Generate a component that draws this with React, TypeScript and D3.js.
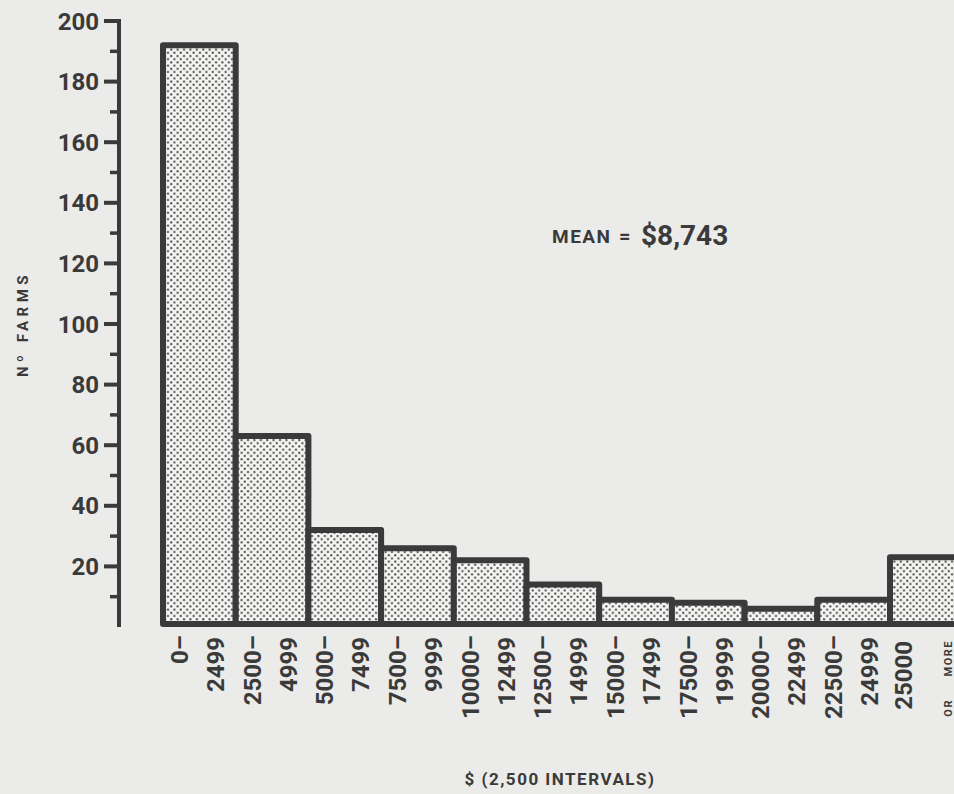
import React from "react";
import * as d3 from "d3";

const categories = ["0-2499", "2500-4999", "5000-7499", "7500-9999", "10000-12499", "12500-14999", "15000-17499", "17500-19999", "20000-22499", "22500-24999", "25000+"];
const labelLine1 = ["0–", "2500–", "5000–", "7500–", "10000–", "12500–", "15000–", "17500–", "20000–", "22500–", "25000"];
const labelLine2 = ["2499", "4999", "7499", "9999", "12499", "14999", "17499", "19999", "22499", "24999", ""];
const farms = [192, 63, 32, 26, 22, 14, 9, 8, 6, 9, 23];
const majorTicks = [20, 40, 60, 80, 100, 120, 140, 160, 180, 200];
const minorTicks = [10, 30, 50, 70, 90, 110, 130, 150, 170, 190];

const W = 954;
const H = 794;
const INK = "#3a3a3a";
const BG = "#ebebe9";
const FONT = "Roboto, 'DejaVu Sans', sans-serif";

export default function App() {
  const y = d3.scaleLinear().domain([0, 200]).range([627, 21]);
  const x = d3.scaleBand<string>().domain(categories).range([163, 163 + 11 * 72.7]).padding(0);
  const bw = x.bandwidth();
  const axisX = 119;

  return (
    <svg width={W} height={H} style={{ position: "absolute", left: 0, top: 0 }} fontFamily={FONT}>
      <defs>
        <pattern id="dots" width={6.4} height={6.4} patternUnits="userSpaceOnUse">
          <rect width={6.4} height={6.4} fill="#f4f4f2" />
          <circle cx={1.6} cy={1.6} r={1.1} fill="#4a4a4a" />
          <circle cx={4.8} cy={4.8} r={1.1} fill="#4a4a4a" />
        </pattern>
      </defs>
      <rect width={W} height={H} fill={BG} />

      {/* bars */}
      {categories.map((c, i) => {
        const x0 = x(c)!;
        const top = y(farms[i]);
        const bottom = y(0) - 3;
        return (
          <rect key={c} x={x0} y={top} width={bw} height={bottom - top}
            fill="url(#dots)" stroke={INK} strokeWidth={6} strokeLinejoin="round" />
        );
      })}

      {/* y axis */}
      <line x1={axisX} x2={axisX} y1={y(200) - 2} y2={y(0)} stroke={INK} strokeWidth={4} />
      {majorTicks.map((t) => (
        <g key={"M" + t}>
          <line x1={104} x2={axisX + 2} y1={y(t)} y2={y(t)} stroke={INK} strokeWidth={4} />
          <text x={99} y={y(t) + 8.5} textAnchor="end" fontSize={24} fontWeight={700} fill={INK}>{t}</text>
        </g>
      ))}
      {minorTicks.map((t) => (
        <line key={"m" + t} x1={110} x2={axisX} y1={y(t)} y2={y(t)} stroke={INK} strokeWidth={3.5} />
      ))}

      {/* y title */}
      <text transform="translate(28,324) rotate(-90)" textAnchor="middle" fontSize={15} fontWeight={700}
        letterSpacing={4.5} fill={INK}>Nº FARMS</text>

      {/* x labels */}
      {categories.map((c, i) => {
        const cx = x(c)! + bw / 2;
        const isLast = i === categories.length - 1;
        return (
          <g key={"l" + c}>
            <text transform={`translate(${cx - (isLast ? 23 : 20) + 8.5},${isLast ? 641 : 635}) rotate(-90)`}
              textAnchor="end" fontSize={24} fontWeight={700} fill={INK}>{labelLine1[i]}</text>
            {labelLine2[i] && (
              <text transform={`translate(${cx + 16 + 8.5},637) rotate(-90)`}
                textAnchor="end" fontSize={24} fontWeight={700} fill={INK}>{labelLine2[i]}</text>
            )}
            {isLast && (
              <g>
                <text transform={`translate(${cx + 22 + 4},640) rotate(-90)`} textAnchor="end"
                  fontSize={11} fontWeight={700} letterSpacing={1.5} fill={INK}>MORE</text>
                <text transform={`translate(${cx + 22 + 4},699) rotate(-90)`} textAnchor="end"
                  fontSize={11} fontWeight={700} letterSpacing={1.5} fill={INK}>OR</text>
              </g>
            )}
          </g>
        );
      })}

      {/* x title */}
      <text x={560} y={785} textAnchor="middle" fontSize={17} fontWeight={700} letterSpacing={1.5} fill={INK}>
        $ (2,500 INTERVALS)
      </text>

      {/* mean annotation */}
      <text x={552} y={243} fontSize={19} fontWeight={700} letterSpacing={1.5} fill={INK}>MEAN</text>
      <text x={619} y={243} fontSize={20} fontWeight={700} fill={INK}>=</text>
      <text x={641} y={245} fontSize={28} fontWeight={700} fill={INK}>$8,743</text>
    </svg>
  );
}
